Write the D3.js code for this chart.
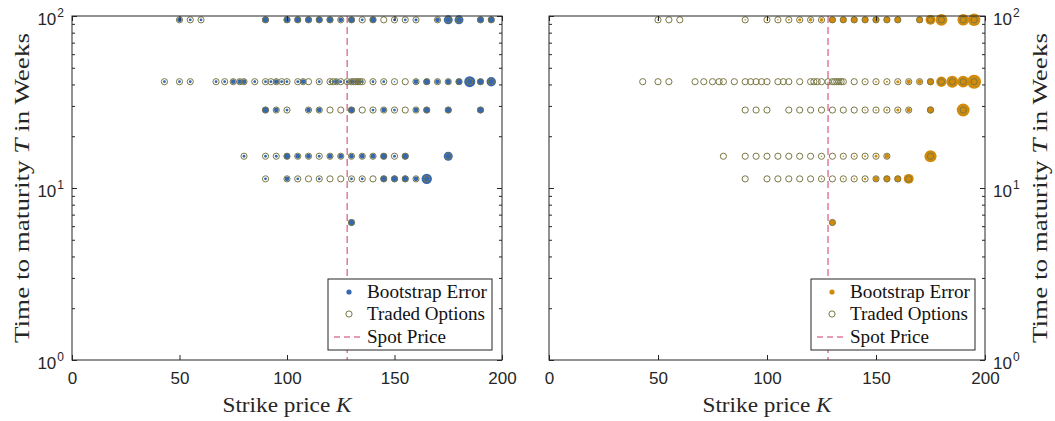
<!DOCTYPE html>
<html><head><meta charset="utf-8">
<script src="https://cdn.jsdelivr.net/npm/d3@7"></script>
<style>body{margin:0;background:#fff}svg{display:block}</style>
</head><body><svg id="c" width="1055" height="421"></svg>
<script>
// ---- data ----
const maturities = [95, 41.5, 28.4, 15.3, 11.3, 6.3];
const strikesT1 = [50,55,60,90,100,105,110,115,120,125,130,135,140,145,150,155,160,170,175,180,190,195];
const bootLeftT1 = [0.12,0.04,0.04,0.22,0.22,0.22,0.22,0.22,0.22,0.12,0.22,0.04,0.22,0,0.04,0.04,0.05,0.12,0.41,0.41,0.22,0.22];
const bootRightT1 = [0.013,0,0,0.013,0.013,0.013,0.02,0.05,0.06,0.07,0.22,0.22,0.22,0.22,0.22,0.22,0.22,0.22,0.5,0.72,0.68,0.8];
const strikesT2 = [43,50,55,67,71,75,78,80,85,90,92.5,95,97.5,100,105,107.5,110,115,120,121.5,123,125,128,130,131,132,133,134,135,140,145,150,155,160,165,170,175,180,185,190,195];
const bootLeftT2 = [0.04,0.04,0.04,0.04,0.04,0.12,0.12,0.12,0.04,0.04,0.04,0.12,0.04,0.04,0.04,0.12,0,0.04,0.04,0.04,0.12,0.04,0.04,0.12,0.04,0.04,0.12,0.04,0.04,0.04,0.04,0.013,0,0.12,0.22,0.12,0.14,0.22,0.62,0.22,0.45];
const bootRightT2 = [0,0,0,0,0,0,0,0,0,0,0,0,0,0,0,0,0,0,0,0,0,0,0,0,0,0,0,0,0,0,0.013,0.015,0.02,0.05,0.1,0.12,0.24,0.55,0.72,0.7,1.0];
const strikesT3 = [90,95,100,110,115,120,125,130,135,140,145,150,155,160,165,175,190];
const bootLeftT3 = [0.22,0.12,0.04,0.12,0.12,0,0,0.22,0,0.04,0.12,0.04,0,0.12,0.22,0.22,0.22];
const bootRightT3 = [0,0,0,0,0,0,0,0,0,0,0.013,0.015,0.02,0.05,0.1,0.24,0.85];
const strikesT4 = [80,90,95,100,105,110,115,120,125,130,135,140,145,150,155,175];
const bootLeftT4 = [0.04,0.04,0.04,0.2,0.12,0.12,0.04,0.12,0.12,0.12,0.12,0.12,0.22,0.04,0.22,0.41];
const bootRightT4 = [0,0,0,0,0,0,0,0,0.013,0,0.013,0.015,0.02,0.04,0.12,0.75];
const strikesT5 = [90,100,105,110,115,120,125,130,135,140,145,150,155,160,165];
const bootLeftT5 = [0.04,0.12,0.04,0,0.04,0,0,0.04,0.04,0,0.22,0.22,0.22,0.12,0.55];
const bootRightT5 = [0,0,0,0,0,0,0.013,0,0.013,0.015,0.03,0.14,0.22,0.22,0.5];
const strikesT6 = [130];
const bootLeftT6 = [0.22];
const bootRightT6 = [0.18];
const spotPrice = 128;
const xTicks = [0,50,100,150,200];
const yTicks = [1,10,100];
const yTickExp = ["0","1","2"];
const legendLabels = ["Bootstrap Error","Traded Options","Spot Price"];

const strikeRows = [strikesT1,strikesT2,strikesT3,strikesT4,strikesT5,strikesT6];
const leftRows = [bootLeftT1,bootLeftT2,bootLeftT3,bootLeftT4,bootLeftT5,bootLeftT6];
const rightRows = [bootRightT1,bootRightT2,bootRightT3,bootRightT4,bootRightT5,bootRightT6];

// ---- drawing ----
const svg = d3.select("#c");
const AX = "#262626";
const y = d3.scaleLog().domain([1,100]).range([360,16]);
const rScale = d3.scaleSqrt().domain([0,1]).range([0,7]);
const minorY = [];
for (let k=0;k<2;k++) for (let m=2;m<=9;m++) minorY.push(m*Math.pow(10,k));

function panel(x, boot, color, side) {
  const g = svg.append("g");
  const [x0,x1] = x.range();
  const [yb,yt] = y.range();
  g.append("line").attr("x1",x(spotPrice)).attr("x2",x(spotPrice)).attr("y1",yt).attr("y2",yb)
    .attr("stroke","#e07a9c").attr("stroke-width",1.5).attr("stroke-dasharray","7,4");
  const pts = [];
  maturities.forEach((T,i)=>strikeRows[i].forEach((K,j)=>pts.push({K,T,e:boot[i][j]})));
  g.selectAll("circle.b").data(pts.filter(d=>d.e>0)).join("circle").attr("class","b")
    .attr("cx",d=>x(d.K)).attr("cy",d=>y(d.T)).attr("r",d=>rScale(d.e)).attr("fill",color);
  g.selectAll("circle.t").data(pts).join("circle").attr("class","t")
    .attr("cx",d=>x(d.K)).attr("cy",d=>y(d.T)).attr("r",3.1)
    .attr("fill","none").attr("stroke","#7b7845").attr("stroke-width",1);
  const ab = g.append("g").attr("transform",`translate(0,${yb})`)
    .call(d3.axisBottom(x).tickValues(xTicks).tickSizeInner(-5).tickSizeOuter(0).tickPadding(12));
  ab.select(".domain").remove();
  ab.selectAll("line").attr("stroke",AX);
  ab.selectAll("text").attr("font-family","Liberation Sans, Arial, sans-serif").attr("font-size",17).attr("fill",AX);
  const at = g.append("g").attr("transform",`translate(0,${yt})`)
    .call(d3.axisTop(x).tickValues(xTicks).tickSizeInner(-5).tickSizeOuter(0).tickFormat(""));
  at.select(".domain").remove(); at.selectAll("line").attr("stroke",AX);
  [[x0,d3.axisLeft],[x1,d3.axisRight]].forEach(([px,fn])=>{
    const a = g.append("g").attr("transform",`translate(${px},0)`)
      .call(fn(y).tickValues(yTicks).tickSizeInner(-5).tickSizeOuter(0).tickFormat(""));
    a.select(".domain").remove(); a.selectAll("line").attr("stroke",AX);
    const m = g.append("g").attr("transform",`translate(${px},0)`)
      .call(fn(y).tickValues(minorY).tickSizeInner(-3).tickSizeOuter(0).tickFormat(""));
    m.select(".domain").remove(); m.selectAll("line").attr("stroke",AX);
  });
  g.append("rect").attr("x",x0).attr("y",yt).attr("width",x1-x0).attr("height",yb-yt)
    .attr("fill","none").attr("stroke",AX).attr("stroke-width",1);
  const lab = g.append("g").attr("font-family","Liberation Sans, Arial, sans-serif").attr("fill",AX);
  yTicks.forEach((v,i)=>{
    const t = lab.append("text").attr("y",y(v)+9).attr("font-size",17);
    if (side==="left") t.attr("x",x0-8).attr("text-anchor","end");
    else t.attr("x",x1+8).attr("text-anchor","start");
    t.append("tspan").text("10");
    t.append("tspan").attr("font-size",12).attr("dy",-8).attr("dx",1).text(yTickExp[i]);
  });
  const xl = g.append("text").attr("x",(x0+x1)/2).attr("y",412).attr("text-anchor","middle")
    .attr("font-family","'Liberation Serif', 'Times New Roman', serif").attr("font-size",20).attr("fill",AX)
    .attr("textLength",129).attr("lengthAdjust","spacingAndGlyphs");
  xl.append("tspan").text("Strike price ");
  xl.append("tspan").attr("font-style","italic").text("K");
  const ycx = side==="left" ? 29 : 1047;
  const yl = g.append("text").attr("transform",`translate(${ycx},${(yt+yb)/2}) rotate(-90)`)
    .attr("text-anchor","middle").attr("font-family","'Liberation Serif', 'Times New Roman', serif").attr("font-size",20).attr("fill",AX)
    .attr("textLength",310).attr("lengthAdjust","spacingAndGlyphs");
  yl.append("tspan").text("Time to maturity ");
  yl.append("tspan").attr("font-style","italic").text("T");
  yl.append("tspan").text(" in Weeks");
  const bw=164, bh=71, bx=x1-10-bw, by=yb-10-bh;
  const lg = g.append("g");
  lg.append("rect").attr("x",bx).attr("y",by).attr("width",bw).attr("height",bh)
    .attr("fill","#fff").attr("stroke",AX).attr("stroke-width",1);
  const rows=[by+13,by+35,by+58];
  lg.append("circle").attr("cx",bx+21).attr("cy",rows[0]).attr("r",2.6).attr("fill",color);
  lg.append("circle").attr("cx",bx+21).attr("cy",rows[1]).attr("r",3.1).attr("fill","none").attr("stroke","#7b7845");
  lg.append("line").attr("x1",bx+6).attr("x2",bx+36).attr("y1",rows[2]).attr("y2",rows[2])
    .attr("stroke","#e07a9c").attr("stroke-width",1.5).attr("stroke-dasharray","6,4");
  const tw=[120,118,79];
  legendLabels.forEach((s,i)=>lg.append("text").attr("x",bx+39).attr("y",rows[i]+6)
    .attr("font-family","'Liberation Serif', 'Times New Roman', serif").attr("font-size",19).attr("fill","#111")
    .attr("textLength",tw[i]).attr("lengthAdjust","spacingAndGlyphs").text(s));
}

panel(d3.scaleLinear().domain([0,200]).range([72,502]), leftRows, "#3467b0", "left");
panel(d3.scaleLinear().domain([0,200]).range([549,985]), rightRows, "#d08a0c", "right");
</script></body></html>
